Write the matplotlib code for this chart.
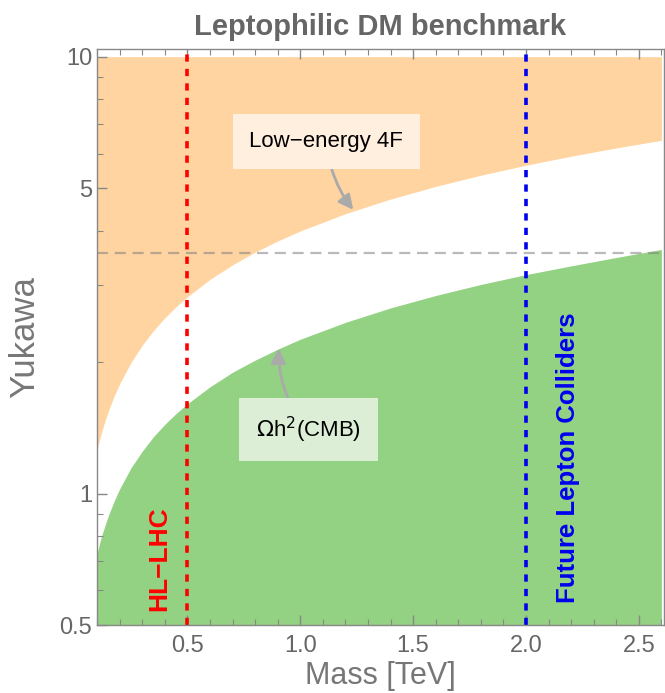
import matplotlib.pyplot as plt
from matplotlib.ticker import FixedLocator, NullFormatter, MultipleLocator

# Mass grid [TeV] and boundaries
mass = [0.1, 0.11, 0.12, 0.135, 0.15, 0.175, 0.2, 0.25, 0.3, 0.35, 0.4, 0.45,
        0.5, 0.6, 0.7, 0.8, 0.9, 1.0, 1.2, 1.4, 1.6, 1.8, 2.0, 2.2, 2.4, 2.6]
# lower edge of the orange (low-energy 4F) region
upper = [1.262, 1.323, 1.382, 1.466, 1.545, 1.669, 1.784, 1.995, 2.185, 2.361,
         2.524, 2.677, 2.821, 3.091, 3.338, 3.569, 3.785, 3.99, 4.371, 4.721,
         5.047, 5.353, 5.643, 5.918, 6.181, 6.434]
# upper edge of the green (relic density) region
lower = [0.73, 0.765, 0.80, 0.845, 0.89, 0.96, 1.025, 1.145, 1.25, 1.35,
         1.44, 1.525, 1.605, 1.755, 1.895, 2.02, 2.14, 2.255, 2.465, 2.66,
         2.84, 3.01, 3.17, 3.32, 3.47, 3.62]

y_top = 10.0
y_bottom = 0.5
perturbative = 3.545
hl_lhc = 0.5
flc = 2.0

yticks = [0.5, 1, 5, 10]
ytick_labels = ['0.5', '1', '5', '10']
xticks = [0.5, 1.0, 1.5, 2.0, 2.5]

plt.rcParams['font.family'] = ['Liberation Sans', 'DejaVu Sans']

fig = plt.figure(figsize=(6.65, 6.93), dpi=100)
ax = fig.add_axes([0.146, 0.098, 0.852, 0.831])

ax.fill_between(mass, upper, y_top, color='#FFD4A1', lw=0)
ax.fill_between(mass, y_bottom, lower, color='#93D282', lw=0)

ax.axhline(perturbative, color='#808080', alpha=0.55, lw=1.6, ls=(0, (5, 3)))
ax.axvline(hl_lhc, color='#FF0000', lw=2.6, ls=(0, (2, 2)))
ax.axvline(flc, color='#0000EE', lw=2.6, ls=(0, (2, 2)))

ax.set_yscale('log')
ax.set_xlim(0.1, 2.61)
ax.set_ylim(0.5, 10.4)

ax.yaxis.set_major_locator(FixedLocator(yticks))
ax.set_yticklabels(ytick_labels)
ax.yaxis.set_minor_locator(FixedLocator([0.6, 0.7, 0.8, 0.9, 2, 3, 4, 6, 7, 8, 9]))
ax.yaxis.set_minor_formatter(NullFormatter())
ax.xaxis.set_major_locator(FixedLocator(xticks))
ax.set_xticklabels(['%.1f' % v for v in xticks])
ax.xaxis.set_minor_locator(MultipleLocator(0.1))

ax.tick_params(which='both', direction='in', top=True, right=False,
               colors='#888888', labelcolor='#666666', labelsize=17)
ax.tick_params(which='major', length=7, width=1)
ax.tick_params(which='minor', length=4, width=0.8)
ax.tick_params(axis='x', pad=7)
for s in ax.spines.values():
    s.set_color('#888888')
    s.set_linewidth(1)

ax.set_title('Leptophilic DM benchmark', fontsize=21, fontweight='bold',
             color='#666666', pad=10)
ax.set_xlabel('Mass [TeV]', fontsize=22, color='#777777', labelpad=3)
fig.text(25 / 665, 0.513, 'Yukawa', rotation=90, fontsize=25, color='#777777',
         ha='center', va='center')

ax.text(0.377, 0.71, 'HL\u2212LHC', rotation=90, color='#FF0000', fontsize=19,
        fontweight='bold', ha='center', va='center')
ax.text(2.185, 1.21, 'Future Lepton Colliders', rotation=90, color='#0000EE',
        fontsize=18.5, fontweight='bold', ha='center', va='center')

ax.annotate('Low\u2212energy 4F', xy=(1.235, 4.46), xytext=(1.116, 6.39),
            fontsize=16, ha='center', va='center', color='black',
            bbox=dict(boxstyle='square,pad=0.75', fc='#FFEFDF', ec='none'),
            arrowprops=dict(arrowstyle='-|>', color='#AAAAAA', lw=2,
                            mutation_scale=22, shrinkA=0, shrinkB=0,
                            connectionstyle='arc3,rad=0.15'))
ax.annotate(r'$\Omega$h$^2$(CMB)', xy=(0.905, 2.15), xytext=(1.037, 1.40),
            fontsize=16, ha='center', va='center', color='black',
            bbox=dict(boxstyle='square,pad=0.75', fc='#DCEFD6', ec='none'),
            arrowprops=dict(arrowstyle='-|>', color='#AAAAAA', lw=2,
                            mutation_scale=22, shrinkA=0, shrinkB=0,
                            connectionstyle='arc3,rad=-0.2'))

plt.savefig('out.png', dpi=100)
